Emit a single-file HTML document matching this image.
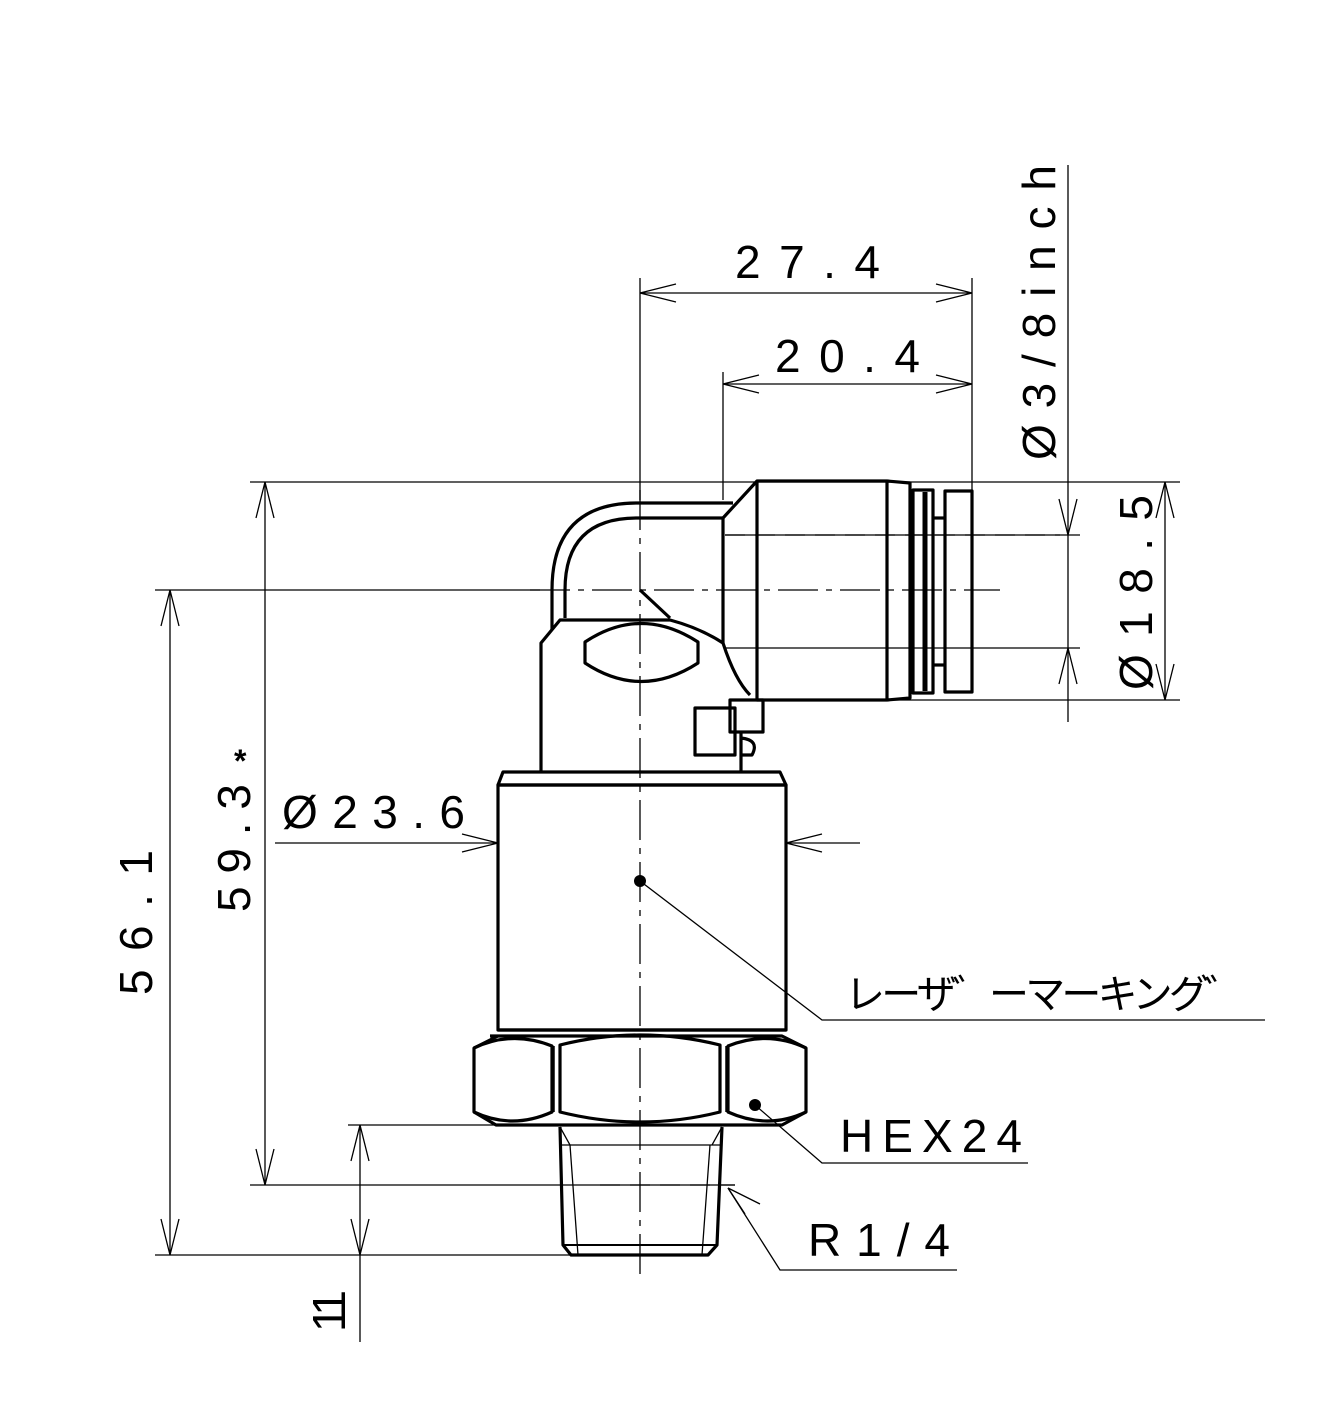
<!DOCTYPE html>
<html><head><meta charset="utf-8"><style>
html,body{margin:0;padding:0;background:#fff}
svg{display:block}
text{font-family:"Liberation Sans","Noto Sans CJK JP",sans-serif;fill:#000;font-size:46px}
</style></head><body>
<svg width="1332" height="1404" viewBox="0 0 1332 1404" xmlns="http://www.w3.org/2000/svg">
<g fill="none" stroke="#000" stroke-width="1.3">
<line x1="640" y1="278" x2="640" y2="500"/>
<line x1="972" y1="278" x2="972" y2="490"/>
<line x1="640" y1="293" x2="972" y2="293"/>
<line x1="723" y1="372" x2="723" y2="500"/>
<line x1="723" y1="384" x2="972" y2="384"/>
<line x1="1068" y1="165" x2="1068" y2="722"/>
<line x1="725" y1="535" x2="1080" y2="535"/>
<line x1="725" y1="648" x2="1080" y2="648"/>
<line x1="250" y1="482" x2="1180" y2="482"/>
<line x1="890" y1="700" x2="1180" y2="700"/>
<line x1="1165" y1="482" x2="1165" y2="700"/>
<line x1="265" y1="482" x2="265" y2="1185"/>
<line x1="250" y1="1185" x2="735" y2="1185"/>
<line x1="170" y1="590" x2="170" y2="1255"/>
<line x1="155" y1="1255" x2="570" y2="1255"/>
<line x1="155" y1="590" x2="540" y2="590"/>
<line x1="360" y1="1125" x2="360" y2="1342"/>
<line x1="348" y1="1125" x2="560" y2="1125"/>
<line x1="275" y1="843" x2="498" y2="843"/>
<line x1="786" y1="843" x2="860" y2="843"/>
<path d="M676 284 L640 293 L676 302 M936 284 L972 293 L936 302"/>
<path d="M759 375 L723 384 L759 393 M936 375 L972 384 L936 393"/>
<path d="M1059 499 L1068 535 L1077 499 M1059 684 L1068 648 L1077 684"/>
<path d="M1156 518 L1165 482 L1174 518 M1156 664 L1165 700 L1174 664"/>
<path d="M256 518 L265 482 L274 518 M256 1149 L265 1185 L274 1149"/>
<path d="M161 626 L170 590 L179 626 M161 1219 L170 1255 L179 1219"/>
<path d="M351 1161 L360 1125 L369 1161 M351 1219 L360 1255 L369 1219"/>
<path d="M462 834 L498 843 L462 852 M822 834 L786 843 L822 852"/>
<path d="M745 1214 L728 1188 M760 1204 L728 1188"/>
<polyline points="640,881 822,1020 1265,1020"/>
<polyline points="755,1105 822,1163 1028,1163"/>
<polyline points="728,1188 780,1270 957,1270"/>
<line x1="640" y1="490" x2="640" y2="1280" stroke-dasharray="40,8,6,8"/>
<line x1="530" y1="590" x2="1000" y2="590" stroke-dasharray="40,8,6,8"/>
<line x1="725" y1="535" x2="1060" y2="535" stroke-dasharray="20,10"/>
<line x1="600" y1="1185" x2="735" y2="1185" stroke-dasharray="20,10"/>
</g>
<g fill="none" stroke="#000" stroke-width="3.2" stroke-linejoin="round">
<path d="M733 503 L637 503 Q552 503 552 590 L552 630"/>
<path d="M723 518 L637 518 Q565 518 565 590 L565 618"/>
<path d="M723 518 L757 481 L887 481 L910 483 L910 698 L887 700 L757 700 L757 481"/>
<line x1="887" y1="481" x2="887" y2="700"/>
<line x1="723" y1="518" x2="723" y2="643"/>
<rect x="913" y="490" width="20" height="203"/>
<line x1="925" y1="492" x2="925" y2="691" stroke-width="5"/>
<rect x="945" y="491" width="27" height="201"/>
<line x1="932" y1="518" x2="945" y2="518"/>
<line x1="932" y1="665" x2="945" y2="665"/>
<path d="M541 772 L541 643 L560 620 L670 620 Q700 628 723 643 Q735 680 750 695"/>
<path d="M585 642 Q641 605 698 642 L698 663 Q641 700 585 663 Z"/>
<path d="M640 590 L670 618"/>
<rect x="695" y="708" width="40" height="47"/>
<rect x="730" y="700" width="33" height="32"/>
<path d="M741 732 L741 772 M741 738 Q760 740 752 755 L741 755"/>
<path d="M503 772 L780 772 L786 785 L498 785 Z"/>
<rect x="498" y="785" width="288" height="245"/>
<path d="M498 1030 L786 1030 M490 1036 L782 1036 L806 1048 L806 1112 L782 1125 L496 1125 L474 1112 L474 1048 L498 1036"/>
<path d="M474 1048 Q512 1030 552 1046 L552 1112 Q512 1130 474 1112"/>
<path d="M806 1048 Q768 1030 728 1046 L728 1112 Q768 1130 806 1112"/>
<path d="M560 1045 Q640 1025 720 1045 L720 1112 Q640 1132 560 1112 Z"/>
<line x1="554" y1="1046" x2="554" y2="1112" stroke-width="1.5"/>
<line x1="726" y1="1046" x2="726" y2="1112" stroke-width="1.5"/>
<path d="M560 1127 L563 1245 L571 1255 L708 1255 L717 1245 L722 1127"/>
<path d="M563 1245 L717 1245" stroke-width="2"/>
<path d="M570 1145 L578 1255 M710 1145 L702 1255 M562 1145 L720 1145 M560 1127 L570 1145 M722 1127 L712 1145" stroke-width="1.3"/>
</g>
<circle cx="640" cy="881" r="6"/>
<circle cx="755" cy="1105" r="6"/>
<text x="735" y="278" textLength="145" lengthAdjust="spacing">27.4</text>
<text x="775" y="372" textLength="145" lengthAdjust="spacing">20.4</text>
<text x="282" y="828" textLength="183" lengthAdjust="spacing">Ø23.6</text>
<text transform="translate(1055,460) rotate(-90)" textLength="295" lengthAdjust="spacing">Ø3/8inch</text>
<text transform="translate(1152,690) rotate(-90)" textLength="195" lengthAdjust="spacing">Ø18.5</text>
<text transform="translate(250,912) rotate(-90)" textLength="128" lengthAdjust="spacing">59.3</text>
<text x="234" y="772" style="font-size:32px;font-weight:bold">*</text>
<text transform="translate(152,995) rotate(-90)" textLength="145" lengthAdjust="spacing">56.1</text>
<text transform="translate(345,1332) rotate(-90)" textLength="42" lengthAdjust="spacing">11</text>
<text x="845" y="1008" style="font-size:40px" textLength="400" lengthAdjust="spacing">レーザ゛ーマーキング゛</text>
<text x="840" y="1152" textLength="182" lengthAdjust="spacing">HEX24</text>
<text x="808" y="1256" textLength="142" lengthAdjust="spacing">R1/4</text>
</svg>
</body></html>
